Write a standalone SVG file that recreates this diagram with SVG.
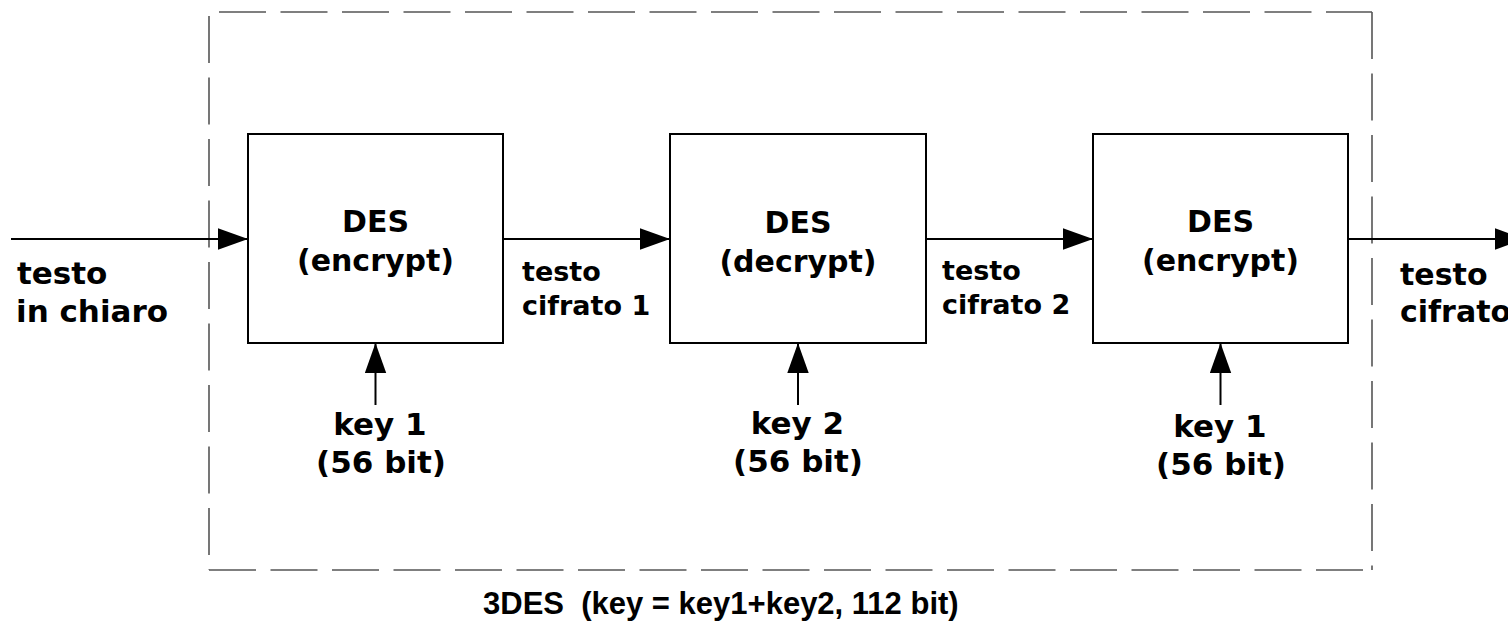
<svg xmlns="http://www.w3.org/2000/svg" width="1508" height="622" viewBox="0 0 1508 622">
<defs>
<style>
.box{fill:#fff;stroke:#000;stroke-width:2}
.dash{fill:none;stroke:#555;stroke-width:1.6;stroke-dasharray:47 14.5}
.conn{fill:none;stroke:#000;stroke-width:2}
text{font-family:"DejaVu Sans","Liberation Sans",sans-serif;font-weight:bold;fill:#000}
.c{text-anchor:middle}
.pre{white-space:pre;font-family:"Liberation Sans",Arial,sans-serif}
</style>
<marker id="ah" markerUnits="userSpaceOnUse" markerWidth="30" markerHeight="22" viewBox="0 0 28 20" refX="28" refY="10" orient="auto">
<path d="M0,0 L28,10 L0,20 Z" fill="#000"/>
</marker>
</defs>
<rect width="1508" height="622" fill="#fff"/>
<g id="frame">
<path class="dash" d="M219,12 H1372"/>
<path class="dash" d="M1372,12 V570"/>
<path class="dash" d="M209,570 H1372"/>
<path class="dash" d="M209,16 V570"/>
</g>
<g id="connectors">
<path class="conn" d="M11,239 H248" marker-end="url(#ah)"/>
<path class="conn" d="M503,239 H670" marker-end="url(#ah)"/>
<path class="conn" d="M926,239 H1093" marker-end="url(#ah)"/>
<path class="conn" d="M1348,239 H1525" marker-end="url(#ah)"/>
<path class="conn" d="M375.5,405 V343" marker-end="url(#ah)"/>
<path class="conn" d="M798,405 V343" marker-end="url(#ah)"/>
<path class="conn" d="M1220.5,405 V343" marker-end="url(#ah)"/>
</g>
<g id="des1">
<rect class="box" x="248" y="134" width="255" height="209"/>
<text class="c" x="375.5" y="232" font-size="30">DES</text>
<text class="c" x="375.5" y="270.5" font-size="30">(encrypt)</text>
</g>
<g id="des2">
<rect class="box" x="670" y="134" width="256" height="209"/>
<text class="c" x="798" y="233" font-size="30">DES</text>
<text class="c" x="798" y="271.5" font-size="30">(decrypt)</text>
</g>
<g id="des3">
<rect class="box" x="1093" y="134" width="255" height="209"/>
<text class="c" x="1220.5" y="232" font-size="30">DES</text>
<text class="c" x="1220.5" y="270.5" font-size="30">(encrypt)</text>
</g>
<g id="label-in">
<text x="17" y="284" font-size="31">testo</text>
<text x="16" y="321.5" font-size="31">in chiaro</text>
</g>
<g id="label-c1">
<text x="522" y="281" font-size="27">testo</text>
<text x="522" y="315" font-size="27">cifrato 1</text>
</g>
<g id="label-c2">
<text x="942" y="280" font-size="27">testo</text>
<text x="942" y="314" font-size="27">cifrato 2</text>
</g>
<g id="label-out">
<text x="1400" y="285" font-size="30">testo</text>
<text x="1400" y="322" font-size="30">cifrato</text>
</g>
<g id="key1a">
<text class="c" x="380" y="435" font-size="31">key 1</text>
<text class="c" x="381" y="473" font-size="31">(56 bit)</text>
</g>
<g id="key2">
<text class="c" x="797.5" y="434" font-size="31">key 2</text>
<text class="c" x="798" y="472" font-size="31">(56 bit)</text>
</g>
<g id="key1b">
<text class="c" x="1220" y="437" font-size="31">key 1</text>
<text class="c" x="1221" y="475" font-size="31">(56 bit)</text>
</g>
<g id="title">
<text class="pre" xml:space="preserve" x="483" y="614" font-size="31">3DES  (key = key1+key2, 112 bit)</text>
</g>
</svg>
